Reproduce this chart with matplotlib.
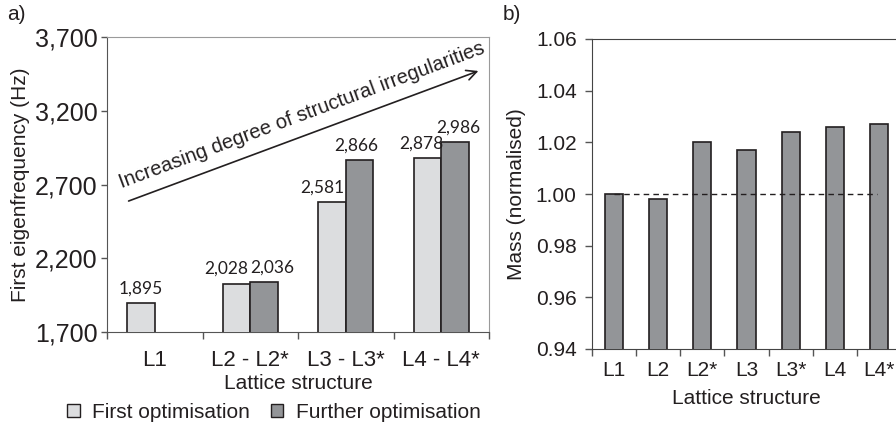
import matplotlib
matplotlib.use("Agg")
import matplotlib.pyplot as plt
import numpy as np
from matplotlib.patches import Rectangle

plt.rcParams['font.family'] = ['Liberation Sans', 'DejaVu Sans']

# ---- data ----
groups = ["L1", "L2 - L2*", "L3 - L3*", "L4 - L4*"]
first_opt = [1895, 2028, 2581, 2878]
further_opt = [np.nan, 2036, 2866, 2986]
freq_ticks = [1700, 2200, 2700, 3200, 3700]

mass_cats = ["L1", "L2", "L2*", "L3", "L3*", "L4", "L4*"]
mass_vals = [1.000, 0.998, 1.020, 1.017, 1.024, 1.026, 1.027]
mass_ticks = [0.94, 0.96, 0.98, 1.00, 1.02, 1.04, 1.06]

# horizontal nudges of value labels (pixels), as in the reference
first_nudge = [0, -10, -10, -6]
further_nudge = [0, 8, -3, 3]

light = "#dcdddf"
dark = "#939598"
edge = "#231f20"
txt = "#231f20"

W, H = 896, 429
fig = plt.figure(figsize=(W / 100, H / 100), dpi=100)

def px(x0, y0, x1, y1):
    return [x0 / W, 1 - y1 / H, (x1 - x0) / W, (y1 - y0) / H]

# ---- panel a ----
ax = fig.add_axes(px(107, 37, 489, 332))
n = len(groups)
x = np.arange(n)
bw = 0.29
ax.bar(x - bw / 2, first_opt, bw, color=light, edgecolor=edge, linewidth=1.2, zorder=3)
fo = np.array(further_opt, dtype=float)
mask = ~np.isnan(fo)
ax.bar(x[mask] + bw / 2, fo[mask], bw, color=dark, edgecolor=edge, linewidth=1.2, zorder=3)
ax.set_xlim(-0.5, n - 0.5)
ax.set_ylim(1700, 3700)
ax.set_yticks(freq_ticks)
ax.set_yticklabels([f"{v:,}" for v in freq_ticks], fontsize=18, color=txt)
ax.set_xticks(x)
ax.set_xticklabels(groups, fontsize=16, color=txt)
ax.set_xticks(np.arange(n + 1) - 0.5, minor=True)
ax.tick_params(axis='x', which='major', length=0, pad=13)
ax.tick_params(axis='x', which='minor', length=5, width=1, color="#555555")
ax.tick_params(axis='y', length=4, width=1, color="#555555", pad=3)
for s in ['top', 'right']:
    ax.spines[s].set_color("#9a9a9a")
for s in ['left', 'bottom']:
    ax.spines[s].set_color("#555555")
ax.set_xlabel("Lattice structure", fontsize=15, labelpad=2, color=txt)
ax.set_ylabel("First eigenfrequency (Hz)", fontsize=15, labelpad=3, color=txt)

# value labels
vfam = ['Lato', 'DejaVu Sans']
unit = 1 / 95.6  # data units per pixel on x
for i, v in enumerate(first_opt):
    ax.text(x[i] - bw / 2 + first_nudge[i] * unit, v + 45, f"{v:,}", ha='center',
            va='bottom', fontsize=12.5, family=vfam, color=txt)
for i, v in enumerate(further_opt):
    if not np.isnan(v):
        ax.text(x[i] + bw / 2 + further_nudge[i] * unit, v + 45, f"{int(v):,}", ha='center',
                va='bottom', fontsize=12.5, family=vfam, color=txt)

# arrow annotation (pixel geometry via axes fraction)
def axfrac(xp, yp):
    return ((xp - 107) / (489 - 107), (332 - yp) / (332 - 37))
ax.annotate("", xy=axfrac(481, 70), xytext=axfrac(126, 202), xycoords='axes fraction',
            textcoords='axes fraction',
            arrowprops=dict(arrowstyle='->', color=txt, lw=1.2, mutation_scale=18))
ax.text(*axfrac(122, 188), "Increasing degree of structural irregularities",
        transform=ax.transAxes, rotation=20.4, rotation_mode='anchor',
        ha='left', va='baseline', fontsize=14.5, color=txt)

# legend
handles = [Rectangle((0, 0), 1, 1, facecolor=light, edgecolor=edge, linewidth=1),
           Rectangle((0, 0), 1, 1, facecolor=dark, edgecolor=edge, linewidth=1)]
fig.legend(handles, ["First optimisation", "Further optimisation"],
           loc='center', bbox_to_anchor=(274 / W, 1 - 412 / H), ncol=2, frameon=False,
           fontsize=15, handlelength=0.6, handleheight=0.6, handletextpad=0.6,
           columnspacing=1.0, labelcolor=txt)

fig.text(7 / W, 1 - 15 / H, "a)", fontsize=15, va='center', ha='left', color=txt)
fig.text(503 / W, 1 - 15 / H, "b)", fontsize=15, va='center', ha='left', color=txt)

# ---- panel b ----
bx = fig.add_axes(px(592, 39, 901, 349))
m = len(mass_cats)
xm = np.arange(m)
bx.bar(xm, mass_vals, 0.41, color=dark, edgecolor=edge, linewidth=1.2, zorder=3)
bx.plot([0, m - 1.05], [1.0, 1.0], ls=(0, (4, 3)), color=txt, lw=1, zorder=4)
bx.set_xlim(-0.5, m - 0.5)
bx.set_ylim(0.94, 1.06)
bx.set_yticks(mass_ticks)
bx.set_yticklabels([f"{v:.2f}" for v in mass_ticks], fontsize=15, color=txt)
bx.set_xticks(xm)
bx.set_xticklabels(mass_cats, fontsize=15, color=txt)
bx.set_xticks(np.arange(m + 1) - 0.5, minor=True)
bx.tick_params(axis='x', which='major', length=0, pad=9)
bx.tick_params(axis='x', which='minor', length=5, width=1, color="#555555")
bx.tick_params(axis='y', length=5, width=1, color="#555555", pad=6)
for s in bx.spines.values():
    s.set_color("#444444")
bx.set_xlabel("Lattice structure", fontsize=15, labelpad=6, color=txt)
bx.set_ylabel("Mass (normalised)", fontsize=15, labelpad=7, color=txt)

fig.savefig("out.png", dpi=100)
